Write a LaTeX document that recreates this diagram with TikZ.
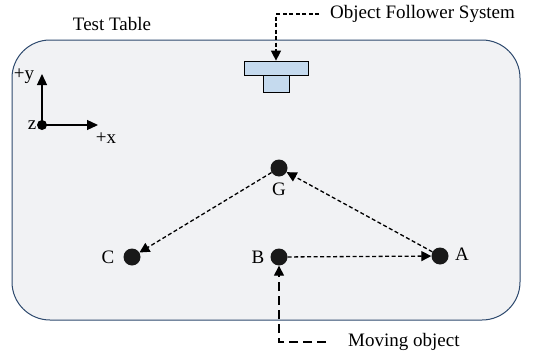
\documentclass[tikz,border=0pt]{standalone}
\usepackage{fontspec}
\setmainfont{Liberation Serif}
\usetikzlibrary{arrows.meta,positioning,calc}
\definecolor{tc}{RGB}{241,242,244}
\definecolor{bc}{RGB}{46,74,110}
\definecolor{fc}{RGB}{197,218,238}
\tikzset{pt/.style={circle,fill=black!90,inner sep=0pt,minimum size=17pt},
 lbl/.style={font=\fontsize{19}{21}\selectfont,inner sep=1pt},
 dsh/.style={line width=1.3pt,dash pattern=on 4pt off 2.5pt},
 arr/.style={dsh,-{Triangle[length=10pt,width=10pt]}},
 ax/.style={line width=1.3pt,-{Triangle[length=11pt,width=10pt]}},
 fbox/.style={draw,fill=fc,line width=.7pt,inner sep=0pt}}
\begin{document}
\begin{tikzpicture}[x=1pt,y=-1pt]
\useasboundingbox (0,0) rectangle (533,356);
\draw[fill=tc,draw=bc,line width=1pt,rounded corners=38pt] (12,40) rectangle (520,320);
\node[lbl] (tt) at (112,24) {Test Table};
% follower system
\node[fbox,minimum width=64pt,minimum height=14pt] (top) at (276,68) {};
\node[fbox,minimum width=26pt,minimum height=17pt,below=0pt of top] (bot) {};
\node[lbl,anchor=west] (ofs) at (329,14) {Object Follower System};
\coordinate (k1) at (276,14);
\draw[arr] ($(ofs.west)+(-10,0)$) -- (k1) -- (top.north);
% axes
\node[circle,fill=black,inner sep=0pt,minimum size=10pt] (z) at (42,125) {};
\coordinate (ya) at (42,74);\coordinate (xa) at (98,125);
\draw[ax] (z.center) -- (ya);\draw[ax] (z.center) -- (xa);
\node[lbl] (yl) at (24,76) {+y};\node[lbl] (zl) at (32,125) {z};
\node[lbl] (xl) at (106,138) {+x};
% points
\node[pt] (G) at (279,168) {};\node[lbl] (gl) at (279,189) {G};
\node[pt] (C) at (132,257) {};\node[lbl] (cl) at (108,257) {C};
\node[pt] (B) at (279,257) {};\node[lbl] (bl) at (258,257) {B};
\node[pt] (A) at (440,256) {};\node[lbl] (al) at (462,254) {A};
\draw[arr] (A) -- (G);\draw[arr] (G) -- (C);\draw[arr] (B) -- (A);
% moving object
\node[lbl,anchor=west] (mo) at (347,342) {Moving object};
\coordinate (k2) at (279,342);
\draw[line width=1.4pt,dash pattern=on 9pt off 5pt,-{Triangle[length=10pt,width=10pt]}] (326,342) -- (k2) -- (B);
\end{tikzpicture}
\end{document}
